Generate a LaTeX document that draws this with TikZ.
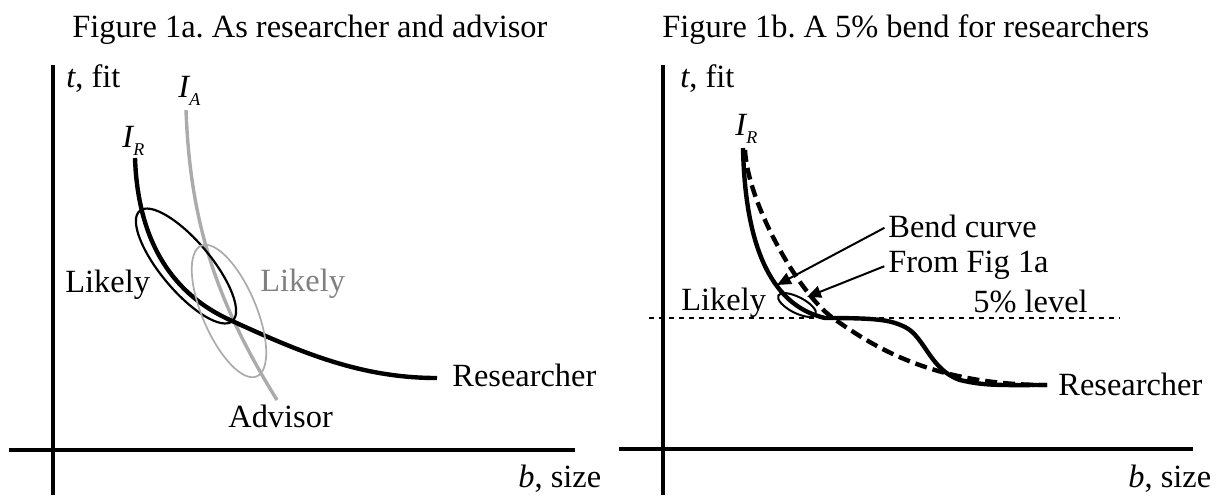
\documentclass[tikz,border=0pt]{standalone}
\usepackage{fontspec}
\setmainfont{Liberation Serif}
\usepackage{tikz}
\usetikzlibrary{arrows.meta,shapes.geometric}
\definecolor{lgray}{gray}{0.67}
\definecolor{tgray}{gray}{0.5}
\frenchspacing
\newcommand{\isub}[1]{\textit{I}\kern-0.5pt\raisebox{-4pt}{\fontsize{9}{9}\selectfont\textit{#1}}}

\begin{document}
\begin{tikzpicture}[x=0.5pt,y=-0.5pt,
  every node/.style={font=\fontsize{16.2}{19}\selectfont},
  txt/.style={inner sep=0pt,anchor=base west},
  axis/.style={line width=1.8pt},
  lk/.style={draw,ellipse,inner sep=0pt},
  arr/.style={line width=1pt,shorten <=2pt,-{Triangle[length=7pt,width=6pt]}}]
 \useasboundingbox (0,0) rectangle (1220,495);
 % Figure 1a
 \node[txt] (ta) at (72,37) {Figure 1a. As researcher and advisor};
 \coordinate (ay0) at (53,65);  \coordinate (ay1) at (53,495);
 \coordinate (ax0) at (9,450);  \coordinate (ax1) at (575,450);
 \draw[axis] (ay0)--(ay1);
 \draw[axis] (ax0)--(ax1);
 \node[txt] (tfa) at (66,87) {\textit{t}, fit};
 \node[txt] (bsa) at (518,487) {\textit{b}, size};
 \node[txt] (ia) at (178,97) {\isub{A}};
 \node[txt] (ira) at (122,147) {\isub{R}};
 \draw[lgray,line width=1.7pt] (186,110) .. controls (190,220) and (215,300) .. (277,400);
 \draw[line width=2.2pt] (135,158) .. controls (138,245) and (175,295) .. (230,320)
   .. controls (300,352) and (360,378) .. (437,378);
 \node[lk,line width=1.1pt,minimum width=72pt,minimum height=25pt,rotate=-50] (lkr) at (186,266) {};
 \node[lk,lgray,line width=0.85pt,minimum width=71pt,minimum height=27pt,rotate=-67] (lka) at (229,311) {};
 \node[txt] (lra) at (65,292) {Likely};
 \node[txt,text=tgray] (laa) at (260,291) {Likely};
 \node[txt] (adv) at (228,427) {Advisor};
 \node[txt] (rsa) at (452,386) {Researcher};
 % Figure 1b
 \node[txt] (tb) at (662,37) {Figure 1b. A 5\% bend for researchers};
 \coordinate (by0) at (663,65);  \coordinate (by1) at (663,495);
 \coordinate (bx0) at (619,449); \coordinate (bx1) at (1193,449);
 \draw[axis] (by0)--(by1);
 \draw[axis] (bx0)--(bx1);
 \node[txt] (tfb) at (680,87) {\textit{t}, fit};
 \node[txt] (bsb) at (1128,487) {\textit{b}, size};
 \node[txt] (irb) at (735,135) {\isub{R}};
 \coordinate (lv0) at (649,318); \coordinate (lv1) at (1120,318);
 \draw[line width=1.2pt,dash pattern=on 2.5pt off 2.5pt] (lv0)--(lv1);
 \draw[line width=2.2pt,dash pattern=on 6pt off 3pt] (745,150) .. controls (748,205) and (800,295) .. (833,318)
   .. controls (880,352) and (940,385) .. (1047,385);
 \draw[line width=2.2pt] (743,148) .. controls (745,240) and (768,305) .. (825,318)
   .. controls (880,318) and (890,320) .. (905,327)
   .. controls (925,337) and (930,370) .. (960,380)
   .. controls (985,386) and (1000,385) .. (1047,385);
 \node[lk,line width=1pt,minimum width=21pt,minimum height=8pt,rotate=-27] (lkb) at (797,305) {};
 \node[txt] (lrb) at (681,310) {Likely};
 \node[txt] (bend) at (888,237) {Bend curve};
 \node[txt] (from) at (888,272) {From Fig 1a};
 \node[txt] (lvl) at (973,312) {5\% level};
 \node[txt] (rsb) at (1058,395) {Researcher};
 \coordinate (tipA) at (777,285);
 \coordinate (tipB) at (807,297);
 \draw[arr] (bend.west) -- (tipA);
 \draw[arr] (from.west) -- (tipB);
\end{tikzpicture}
\end{document}
